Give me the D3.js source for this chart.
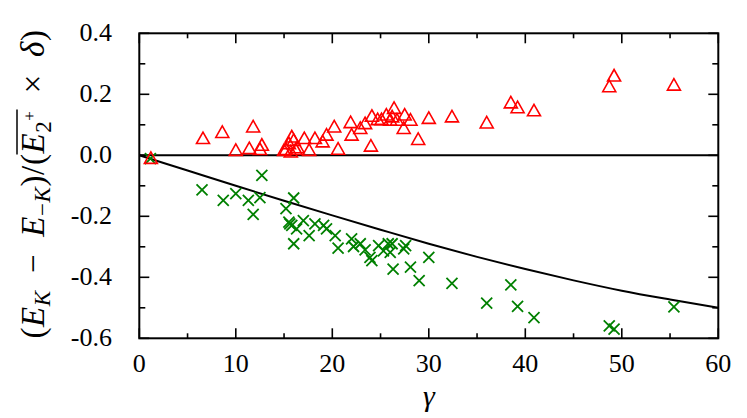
<!DOCTYPE html>
<html><head><meta charset="utf-8">
<script src="https://cdn.jsdelivr.net/npm/d3@7"></script>
<style>html,body{margin:0;padding:0;background:#fff}</style>
</head><body>
<svg id="c" width="747" height="418"></svg>
<script>
const triGamma = [1.2,6.6,8.6,11.8,10.0,11.4,12.7,12.5,15.0,15.2,15.5,15.8,15.7,16.0,16.2,16.4,17.1,18.2,17.6,19.0,19.4,20.2,20.6,21.9,22.0,22.9,23.4,24.0,24.1,24.7,25.1,25.6,26.0,26.4,26.2,26.7,27.5,27.4,28.1,28.9,30.0,32.4,36.0,38.5,39.2,40.9,48.7,49.2,55.4];
const triVal   = [-0.01,0.055,0.075,0.093,0.016,0.022,0.033,0.019,0.016,0.019,0.038,0.06,0.011,0.049,0.019,0.025,0.055,0.055,0.016,0.044,0.066,0.093,0.020,0.107,0.066,0.088,0.104,0.030,0.128,0.117,0.117,0.132,0.115,0.154,0.126,0.115,0.132,0.088,0.115,0.052,0.121,0.126,0.106,0.172,0.156,0.146,0.225,0.26,0.23];
const crossGamma = [1.15,6.5,8.7,10.0,11.3,11.8,12.7,12.5,15.2,16.0,15.5,15.8,15.6,16.0,16.3,17.0,17.6,18.2,19.1,19.4,20.3,20.6,22.0,22.2,22.9,23.4,24.1,23.9,24.8,25.3,25.8,26.0,26.2,26.3,27.4,27.6,28.1,29.0,30.0,32.4,36.0,38.5,39.2,40.9,48.7,49.2,55.4];
const crossVal   = [-0.011,-0.113,-0.148,-0.126,-0.148,-0.194,-0.066,-0.139,-0.175,-0.14,-0.219,-0.23,-0.225,-0.29,-0.241,-0.214,-0.263,-0.225,-0.23,-0.241,-0.263,-0.304,-0.274,-0.299,-0.29,-0.31,-0.345,-0.335,-0.296,-0.313,-0.29,-0.318,-0.29,-0.373,-0.307,-0.296,-0.367,-0.411,-0.335,-0.42,-0.485,-0.425,-0.495,-0.532,-0.559,-0.57,-0.497];
const curveGamma = [0,5,10,15,20,25,30,35,40,45,50,55,60];
const curveVal   = [0,-0.05,-0.1,-0.149,-0.197,-0.244,-0.29,-0.333,-0.373,-0.41,-0.444,-0.473,-0.5];
const xTicks = [0,10,20,30,40,50,60];
const yTicks = [-0.6,-0.4,-0.2,0.0,0.2,0.4];

const svg = d3.select("#c");
const L=139.3, R=718.3, T=33.3, B=338.3;
const x = d3.scaleLinear().domain([0,60]).range([L,R]);
const y = d3.scaleLinear().domain([-0.6,0.4]).range([B,T]);
const font = "Liberation Serif, DejaVu Serif, serif";

// ticks (inside, mirrored)
const tk = svg.append("g").attr("stroke","#000").attr("stroke-width",1.6);
d3.range(0,61,5).forEach(v=>{
  const len = v%10===0?10:5;
  tk.append("line").attr("x1",x(v)).attr("x2",x(v)).attr("y1",B).attr("y2",B-len);
  tk.append("line").attr("x1",x(v)).attr("x2",x(v)).attr("y1",T).attr("y2",T+len);
});
d3.range(-6,5,1).forEach(k=>{
  const v=k/10, len = (k%2===0)?10:6;
  tk.append("line").attr("x1",L).attr("x2",L+len).attr("y1",y(v)).attr("y2",y(v));
  tk.append("line").attr("x1",R).attr("x2",R-len).attr("y1",y(v)).attr("y2",y(v));
});

// zero line
svg.append("line").attr("x1",L).attr("x2",R).attr("y1",y(0)).attr("y2",y(0))
  .attr("stroke","#000").attr("stroke-width",2);

// curve
svg.append("path")
  .datum(curveGamma.map((g,i)=>[g,curveVal[i]]))
  .attr("fill","none").attr("stroke","#000").attr("stroke-width",2)
  .attr("d", d3.line().x(d=>x(d[0])).y(d=>y(d[1])).curve(d3.curveMonotoneX));

// crosses
const cs=5.5;
svg.append("g").selectAll("path").data(crossGamma.map((g,i)=>[g,crossVal[i]])).join("path")
  .attr("transform",d=>`translate(${x(d[0])},${y(d[1])})`)
  .attr("d",`M${-cs},${-cs}L${cs},${cs}M${-cs},${cs}L${cs},${-cs}`)
  .attr("stroke","#008000").attr("stroke-width",1.8).attr("fill","none");

// triangles
svg.append("g").selectAll("path").data(triGamma.map((g,i)=>[g,triVal[i]])).join("path")
  .attr("transform",d=>`translate(${x(d[0])},${y(d[1])})`)
  .attr("d","M0,-6.5L6.5,5L-6.5,5Z")
  .attr("stroke","#ff0000").attr("stroke-width",1.6).attr("fill","none");

// frame
svg.append("rect").attr("x",L).attr("y",T).attr("width",R-L).attr("height",B-T)
  .attr("fill","none").attr("stroke","#000").attr("stroke-width",2);

// tick labels
svg.append("g").selectAll("text").data(xTicks).join("text")
  .attr("x",d=>x(d)).attr("y",372).attr("text-anchor","middle")
  .style("font-family",font).attr("font-size",26).text(d=>d);
svg.append("g").selectAll("text").data(yTicks).join("text")
  .attr("x",112).attr("y",d=>y(d)+8).attr("text-anchor","end")
  .style("font-family",font).attr("font-size",26).text(d=>d.toFixed(1));

// x label
svg.append("text").attr("x",x(30)).attr("y",406).attr("text-anchor","middle")
  .style("font-family",font).attr("font-size",30).attr("font-style","italic").text("γ");

// y label
const yl = svg.append("g").attr("transform","translate(44,184) rotate(-90)");
const t = yl.append("text").attr("text-anchor","middle").style("font-family",font)
  .attr("font-size",33).attr("letter-spacing",0.6);
t.append("tspan").text("(");
t.append("tspan").attr("font-style","italic").text("E");
t.append("tspan").attr("font-style","italic").attr("font-size",23).attr("dy",6).text("K");
t.append("tspan").attr("dy",-6).text("\u2002−\u2002");
t.append("tspan").attr("font-style","italic").text("E");
t.append("tspan").attr("font-size",23).attr("dy",6).text("−");
t.append("tspan").attr("font-style","italic").attr("font-size",23).text("K");
t.append("tspan").attr("dy",-6).text(")/(");
const eb = t.append("tspan").attr("font-style","italic").text("E");
t.append("tspan").attr("font-size",23).attr("dy",7).text("2");
const sp = t.append("tspan").attr("font-size",17).attr("dy",-16).text("+");
t.append("tspan").attr("dy",9).text("\u2002×\u2002");
t.append("tspan").attr("font-style","italic").text("δ");
t.append("tspan").text(")");
try {
  const b1 = eb.node().getBBox(), b2 = sp.node().getBBox();
  yl.append("line").attr("x1",b1.x).attr("x2",b2.x+b2.width+1)
    .attr("y1",b1.y+2).attr("y2",b1.y+2).attr("stroke","#000").attr("stroke-width",1.5);
} catch(e) {}
</script>
</body></html>
